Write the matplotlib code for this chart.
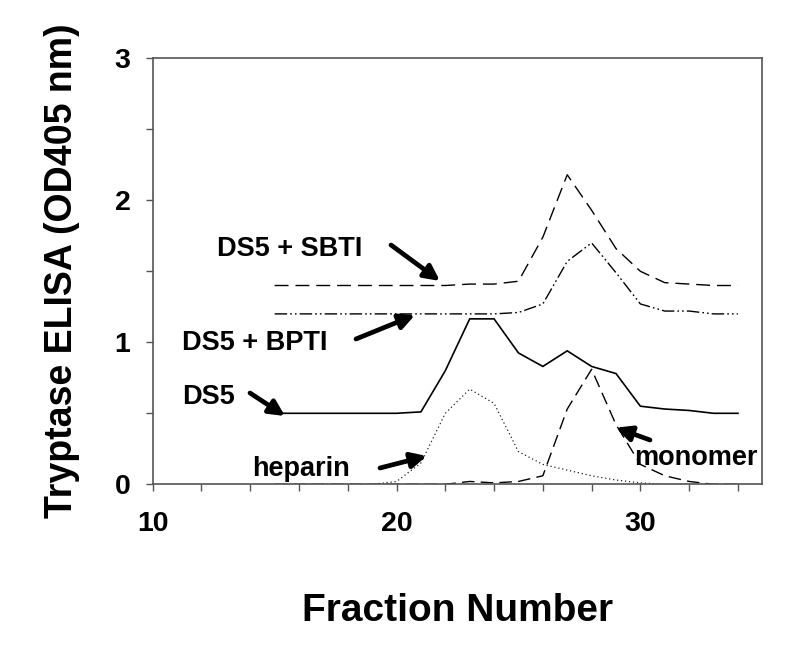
import matplotlib
matplotlib.use("Agg")
import matplotlib.pyplot as plt
from matplotlib.ticker import FixedLocator, NullFormatter

plt.rcParams['font.family'] = ['Liberation Sans', 'DejaVu Sans']
plt.rcParams['font.weight'] = 'bold'

fractions = list(range(15, 35))
ds5_sbti = [1.40, 1.40, 1.40, 1.40, 1.40, 1.40, 1.40, 1.40, 1.41, 1.41,
            1.43, 1.74, 2.18, 1.93, 1.66, 1.50, 1.42, 1.41, 1.40, 1.40]
ds5_bpti = [1.20, 1.20, 1.20, 1.20, 1.20, 1.20, 1.20, 1.20, 1.20, 1.20,
            1.21, 1.27, 1.57, 1.70, 1.49, 1.27, 1.22, 1.22, 1.20, 1.20]
ds5 = [0.50, 0.50, 0.50, 0.50, 0.50, 0.50, 0.51, 0.80, 1.165, 1.165,
       0.925, 0.83, 0.94, 0.83, 0.78, 0.55, 0.53, 0.52, 0.50, 0.50]
heparin = [0.0, 0.0, 0.0, 0.0, 0.0, 0.02, 0.15, 0.50, 0.67, 0.57,
           0.23, 0.14, 0.10, 0.06, 0.03, 0.01, 0.0, 0.0, 0.0, 0.0]
monomer = [0.0, 0.0, 0.0, 0.0, 0.0, 0.0, 0.0, 0.0, 0.02, 0.01,
           0.02, 0.06, 0.53, 0.81, 0.42, 0.14, 0.06, 0.02, 0.0, 0.0]

x_major = [10, 20, 30]
x_minor = list(range(10, 36, 2))
y_major = [0, 1, 2, 3]
y_minor = [0.5, 1.5, 2.5]

labels = ["DS5 + SBTI", "DS5 + BPTI", "DS5", "heparin", "monomer"]

W, H = 800, 654
fig = plt.figure(figsize=(8, 6.54), dpi=100)
L, R, B, T = 152.7, 762.3, 484.3, 58.3
ax = fig.add_axes([L / W, 1 - B / H, (R - L) / W, (B - T) / H])

ax.plot(fractions, ds5_sbti, color='black', lw=1.0, dashes=(10, 5))
ax.plot(fractions, ds5_bpti, color='black', lw=1.0,
        dashes=(9, 2.2, 1.2, 2.2, 1.2, 2.2))
ax.plot(fractions, ds5, color='black', lw=1.2, solid_joinstyle='miter')
ax.plot(fractions, heparin, color='#222222', lw=0.9, dashes=(1, 2.2))
ax.plot(fractions, monomer, color='black', lw=1.0, dashes=(9, 4.5))

ax.set_xlim(10, 35)
ax.set_ylim(0, 3)
ax.xaxis.set_major_locator(FixedLocator(x_major))
ax.xaxis.set_minor_locator(FixedLocator([v for v in x_minor if v not in x_major]))
ax.yaxis.set_major_locator(FixedLocator(y_major))
ax.yaxis.set_minor_locator(FixedLocator(y_minor))
ax.xaxis.set_minor_formatter(NullFormatter())
ax.yaxis.set_minor_formatter(NullFormatter())

spine_c = '#555555'
for s in ax.spines.values():
    s.set_color(spine_c)
    s.set_linewidth(1.2)
ax.tick_params(which='both', direction='out', length=5, width=1.0, color=spine_c)
ax.tick_params(axis='x', which='major', labelsize=20.5, pad=14)
ax.tick_params(axis='y', which='major', labelsize=20.5, pad=11)
for lab in ax.get_xticklabels() + ax.get_yticklabels():
    lab.set_fontweight('bold')

fig.text(457.5 / W, 1 - 621 / H, "Fraction Number", fontsize=28,
         fontweight='bold', ha='center', va='baseline')
fig.text(62 / W, 1 - 271 / H, "Tryptase ELISA (OD405 nm)", fontsize=27,
         fontweight='bold', ha='center', va='center', rotation=90)

text_pos = [(290, 246), (255, 340), (209, 394), (301, 466), (696, 455)]
tails = [(391, 245), (356, 339), (250, 393), (380, 468), (650, 440)]
tips = [(440, 281), (415, 315), (285, 416), (426.7, 456), (616, 427.7)]


def to_data(px, py):
    return (10 + (px - L) / (R - L) * 25, (B - py) / (B - T) * 3)


for lab, tp, tl, tip in zip(labels, text_pos, tails, tips):
    tx, ty = to_data(*tp)
    ax.text(tx, ty, lab, fontsize=19.5, fontweight='bold',
            ha='center', va='center_baseline')
    ax.annotate('', xy=to_data(*tip), xytext=to_data(*tl),
                arrowprops=dict(arrowstyle='-|>', lw=3.4, color='black',
                                mutation_scale=23, shrinkA=0, shrinkB=0))

fig.savefig('out.png', dpi=100)
